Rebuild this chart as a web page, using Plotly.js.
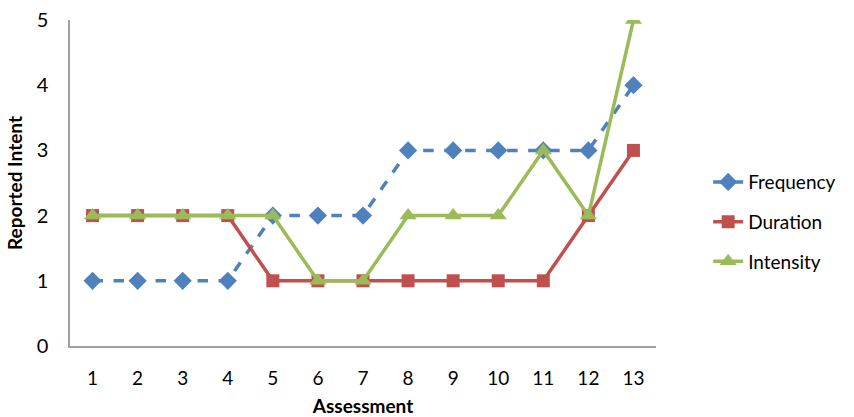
<!DOCTYPE html>
<html><head><meta charset="utf-8">
<script src="https://cdn.plot.ly/plotly-3.0.1.min.js"></script>
<style>html,body{margin:0;padding:0;background:#fff}#chart{width:854px;height:417px}</style>
</head><body><div id="chart"></div>
<script>
var assessments = [1,2,3,4,5,6,7,8,9,10,11,12,13];
var frequency = [1,1,1,1,2,2,2,3,3,3,3,3,4];
var duration  = [2,2,2,2,1,1,1,1,1,1,1,2,3];
var intensity = [2,2,2,2,2,1,1,2,2,2,3,2,5];
var yTicks = [0,1,2,3,4,5];

var font = "Lato, 'Open Sans', sans-serif";
var traces = [
  {x: assessments, y: frequency, name: 'Frequency', legendgroup: 'f', mode: 'lines+markers',
   line: {color: '#4F81BD', width: 3.5, dash: 'dash'},
   marker: {symbol: 'diamond', size: 14, color: '#4F81BD'}},
  {x: assessments, y: duration, name: 'Duration', legendgroup: 'd', mode: 'lines+markers',
   line: {color: '#C0504D', width: 3.5},
   marker: {symbol: 'square', size: 13, color: '#C0504D'}},
  {x: assessments, y: intensity, name: 'Intensity', legendgroup: 'i', mode: 'lines+markers',
   line: {color: '#9BBB59', width: 3.5},
   marker: {symbol: 'triangle-up', size: 15, color: '#9BBB59'}}
];
var layout = {
  width: 854, height: 417,
  margin: {l: 70, r: 198, t: 20, b: 71},
  paper_bgcolor: '#fff', plot_bgcolor: '#fff',
  font: {family: font, size: 19, color: '#000'},
  showlegend: true,
  legend: {x: 1.089, xanchor: 'left', y: 0.38, yanchor: 'middle',
           font: {family: font, size: 19, color: '#000'}, tracegroupgap: 12},
  xaxis: {range: [0.5, 13.5], tickvals: assessments, ticktext: assessments.map(String),
          showgrid: false, zeroline: false, showline: true, linecolor: '#A0A0A0', linewidth: 1.5,
          ticks: '', ticklabelstandoff: 14, tickfont: {size: 19},
          title: {text: '<b>Assessment</b>', font: {size: 19}, standoff: 13}},
  yaxis: {range: [0, 5], tickvals: yTicks, showgrid: false, zeroline: false,
          showline: true, linecolor: '#A0A0A0', linewidth: 1.5, ticks: '',
          ticklabelstandoff: 16, tickfont: {size: 20},
          title: {text: '<b>Reported Intent</b>', font: {size: 19}, standoff: 9}}
};
Plotly.newPlot('chart', traces, layout, {displayModeBar: false});
</script></body></html>
